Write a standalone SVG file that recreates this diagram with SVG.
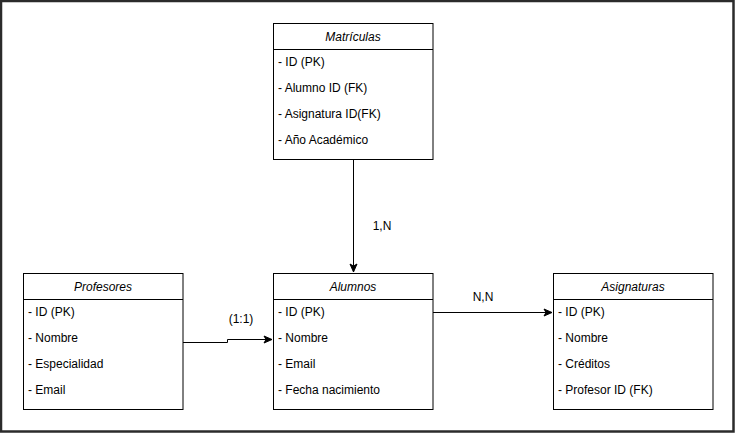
<svg xmlns="http://www.w3.org/2000/svg" width="735" height="433" viewBox="0 0 735 433">
<style>
.box{fill:#fff;stroke:#000;stroke-width:1}
.t{font-family:"Liberation Sans",Arial,sans-serif;font-size:12px;fill:#000}
.ttl{font-style:italic;text-anchor:middle}
.lbl{text-anchor:middle}
.edge{fill:none;stroke:#000;stroke-width:1}
</style>
<defs>
<marker id="arr" markerWidth="10" markerHeight="10" refX="9" refY="5" orient="auto" markerUnits="userSpaceOnUse">
<path d="M1,1.5 L9,5 L1,8.5 L3,5 Z" fill="#000" stroke="#000" stroke-width="1"/>
</marker>
</defs>
<rect x="0" y="0" width="735" height="433" fill="#fff"/>
<rect x="1" y="1" width="732.5" height="430.5" fill="none" stroke="#2b2b2b" stroke-width="2.5"/>

<g id="connectors">
<path class="edge" d="M353.5,160 L353.5,272" marker-end="url(#arr)"/>
<text class="t lbl" x="382" y="230">1,N</text>
<path class="edge" d="M183,342.5 L227.5,342.5 L227.5,339.5 L272,339.5" marker-end="url(#arr)"/>
<text class="t lbl" x="241" y="323">(1:1)</text>
<path class="edge" d="M433,312.5 L552,312.5" marker-end="url(#arr)"/>
<text class="t lbl" x="483" y="301">N,N</text>
</g>

<g id="matriculas">
<rect class="box" x="273.5" y="23.5" width="159.5" height="136"/>
<line class="edge" x1="273.5" y1="49.5" x2="433" y2="49.5"/>
<text class="t ttl" x="353" y="41">Matrículas</text>
<text class="t" x="278" y="66">- ID (PK)</text>
<text class="t" x="278" y="92">- Alumno ID (FK)</text>
<text class="t" x="278" y="118">- Asignatura ID(FK)</text>
<text class="t" x="278" y="144">- Año Académico</text>
</g>

<g id="profesores">
<rect class="box" x="23.5" y="273.5" width="159.5" height="136"/>
<line class="edge" x1="23.5" y1="299.5" x2="183" y2="299.5"/>
<text class="t ttl" x="103" y="291">Profesores</text>
<text class="t" x="28" y="316">- ID (PK)</text>
<text class="t" x="28" y="342">- Nombre</text>
<text class="t" x="28" y="368">- Especialidad</text>
<text class="t" x="28" y="394">- Email</text>
</g>

<g id="alumnos">
<rect class="box" x="273.5" y="273.5" width="159.5" height="136"/>
<line class="edge" x1="273.5" y1="299.5" x2="433" y2="299.5"/>
<text class="t ttl" x="353" y="291">Alumnos</text>
<text class="t" x="278" y="316">- ID (PK)</text>
<text class="t" x="278" y="342">- Nombre</text>
<text class="t" x="278" y="368">- Email</text>
<text class="t" x="278" y="394">- Fecha nacimiento</text>
</g>

<g id="asignaturas">
<rect class="box" x="553.5" y="273.5" width="159.5" height="136"/>
<line class="edge" x1="553.5" y1="299.5" x2="713" y2="299.5"/>
<text class="t ttl" x="633" y="291">Asignaturas</text>
<text class="t" x="558" y="316">- ID (PK)</text>
<text class="t" x="558" y="342">- Nombre</text>
<text class="t" x="558" y="368">- Créditos</text>
<text class="t" x="558" y="394">- Profesor ID (FK)</text>
</g>
</svg>
